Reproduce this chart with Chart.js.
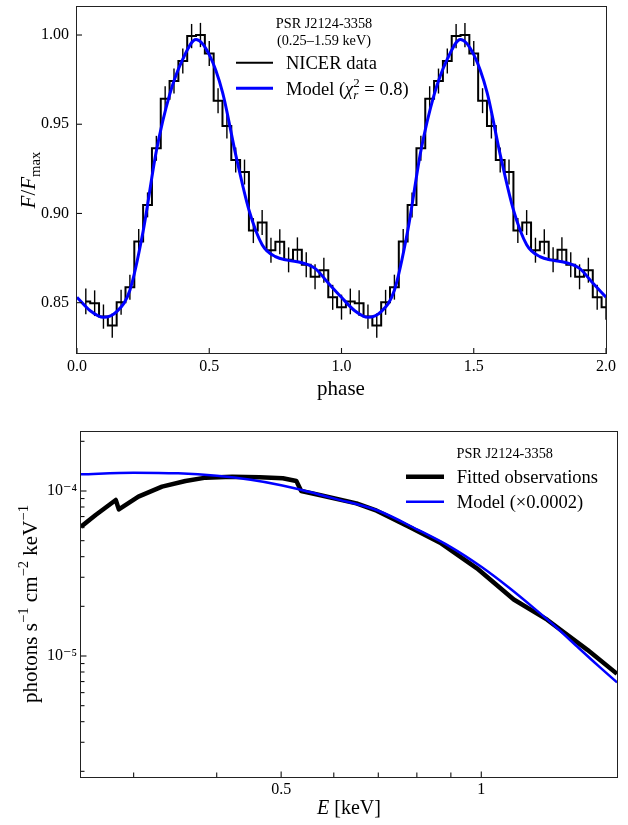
<!DOCTYPE html>
<html><head><meta charset="utf-8">
<script src="https://cdn.jsdelivr.net/npm/chart.js"></script>
<style>
html,body{margin:0;padding:0;background:#fff;}
#wrap{width:628px;height:825px;position:relative;overflow:hidden;}
canvas{display:block;}
</style></head><body>
<div id="wrap">
<div style="position:absolute;left:0;top:0;width:628px;height:410px"><canvas id="c1" width="628" height="410"></canvas></div>
<div style="position:absolute;left:0;top:410px;width:628px;height:415px"><canvas id="c2" width="628" height="415"></canvas></div>
</div>
<script>
const FONT = '"Liberation Serif", "DejaVu Serif", serif';

// ---------- Top panel data (pulse profile, two cycles) ----------
const phaseBins = [0.0333,0.0667,0.1,0.1333,0.1667,0.2,0.2333,0.2667,0.3,0.3333,0.3667,0.4,0.4333,0.4667,0.5,0.5333,0.5667,0.6,0.6333,0.6667,0.7,0.7333,0.7667,0.8,0.8333,0.8667,0.9,0.9333,0.9667,1.0,
  1.0333,1.0667,1.1,1.1333,1.1667,1.2,1.2333,1.2667,1.3,1.3333,1.3667,1.4,1.4333,1.4667,1.5,1.5333,1.5667,1.6,1.6333,1.6667,1.7,1.7333,1.7667,1.8,1.8333,1.8667,1.9,1.9333,1.9667,2.0];
const nicerFlux = [0.8507,0.8497,0.8422,0.8372,0.8502,0.8587,0.8843,0.9048,0.9365,0.9643,0.9742,0.9854,0.9994,1.0000,0.9897,0.9632,0.9490,0.9300,0.9232,0.8904,0.8949,0.8794,0.8842,0.8740,0.8796,0.8712,0.8645,0.8682,0.8530,0.8475,
  0.8507,0.8497,0.8422,0.8372,0.8502,0.8587,0.8843,0.9048,0.9365,0.9643,0.9742,0.9854,0.9994,1.0000,0.9897,0.9632,0.9490,0.9300,0.9232,0.8904,0.8949,0.8794,0.8842,0.8740,0.8796,0.8712,0.8645,0.8682,0.8530,0.8475];
const nicerErr = [0.0072,0.0072,0.0068,0.0068,0.0070,0.0070,0.0070,0.0070,0.0070,0.0070,0.0070,0.0070,0.0068,0.0068,0.0070,0.0070,0.0070,0.0070,0.0070,0.0070,0.0070,0.0070,0.0070,0.0070,0.0070,0.0070,0.0070,0.0070,0.0070,0.0070,
  0.0072,0.0072,0.0068,0.0068,0.0070,0.0070,0.0070,0.0070,0.0070,0.0070,0.0070,0.0070,0.0068,0.0068,0.0070,0.0070,0.0070,0.0070,0.0070,0.0070,0.0070,0.0070,0.0070,0.0070,0.0070,0.0070,0.0070,0.0070,0.0070,0.0070];
const modelPhase = [0,0.05,0.1,0.15,0.2,0.25,0.3,0.35,0.4,0.45,0.5,0.55,0.6,0.65,0.7,0.75,0.8,0.85,0.9,0.95,1.0,
  1.05,1.1,1.15,1.2,1.25,1.3,1.35,1.4,1.45,1.5,1.55,1.6,1.65,1.7,1.75,1.8,1.85,1.9,1.95,2.0];
const modelFlux = [0.8530,0.8455,0.8418,0.8450,0.8570,0.8900,0.9350,0.9665,0.9865,0.9975,0.9890,0.9680,0.9330,0.9020,0.8825,0.8758,0.8737,0.8724,0.8692,0.8610,0.8530,
  0.8455,0.8418,0.8450,0.8570,0.8900,0.9350,0.9665,0.9865,0.9975,0.9890,0.9680,0.9330,0.9020,0.8825,0.8758,0.8737,0.8724,0.8692,0.8610,0.8530];
const phaseTicks = [0, 0.5, 1.0, 1.5, 2.0];
const phaseTickLabels = ['0.0', '0.5', '1.0', '1.5', '2.0'];
const fluxTicks = [0.85, 0.90, 0.95, 1.00];
const fluxTickLabels = ['0.85', '0.90', '0.95', '1.00'];

// ---------- Bottom panel data (spectrum) ----------
const energyObs = [0.25,0.263,0.282,0.285,0.305,0.331,0.359,0.385,0.422,0.464,0.503,0.527,0.536,0.571,0.649,0.696,0.781,0.867,0.985,1.119,1.256,1.444,1.6];
const photonsObs = [6.08e-5,7.16e-5,8.82e-5,7.74e-5,9.24e-5,1.062e-4,1.150e-4,1.205e-4,1.221e-4,1.210e-4,1.194e-4,1.150e-4,1.000e-4,9.45e-5,8.42e-5,7.60e-5,6.03e-5,4.86e-5,3.40e-5,2.20e-5,1.66e-5,1.09e-5,7.8e-6];
const energyModel = [0.25,0.3,0.35,0.4,0.45,0.5,0.55,0.6,0.7,0.8,0.9,1.0,1.1,1.2,1.3,1.4,1.5,1.6];
const photonsModel = [1.262e-4,1.291e-4,1.279e-4,1.236e-4,1.169e-4,1.084e-4,9.89e-5,9.02e-5,7.59e-5,5.86e-5,4.57e-5,3.47e-5,2.60e-5,1.95e-5,1.479e-5,1.122e-5,8.71e-6,6.92e-6];
const energyTicks = [0.3,0.4,0.5,0.6,0.7,0.8,0.9,1.0];
const energyTickLabels = ['','','0.5','','','','','1'];
const photonTicks = [2e-6,3e-6,4e-6,5e-6,6e-6,7e-6,8e-6,9e-6,1e-5,2e-5,3e-5,4e-5,5e-5,6e-5,7e-5,8e-5,9e-5,1e-4,2e-4];
const photonTickLabels = ['','','','','','','','','10⁻⁵','','','','','','','','','10⁻⁴',''];

// ---------- helpers ----------
function richText(ctx, segs, x, y, size, opts) {
  opts = opts || {};
  ctx.save();
  ctx.translate(x, y);
  if (opts.rotate) ctx.rotate(-Math.PI / 2);
  ctx.fillStyle = '#000';
  ctx.textBaseline = 'alphabetic';
  ctx.textAlign = 'left';
  const items = [];
  let total = 0, prevW = 0;
  segs.forEach(s => {
    const sz = size * (s.sc || 1);
    const font = (s.it ? 'italic ' : '') + sz.toFixed(2) + 'px ' + FONT;
    ctx.font = font;
    const w = ctx.measureText(s.t).width;
    let x0, adv;
    if (s.overlay) { x0 = total - prevW; adv = Math.max(0, w - prevW); prevW = Math.max(w, prevW); }
    else { x0 = total; adv = w; prevW = w; }
    items.push({s, font, x0});
    total += adv;
  });
  const start = opts.align === 'left' ? 0 : -total / 2;
  const base = size * 0.34;
  items.forEach(it => { ctx.font = it.font; ctx.fillText(it.s.t, start + it.x0, base + (it.s.dy || 0) * size); });
  ctx.restore();
}
function hline(ctx, x1, x2, y, color, w) {
  ctx.save(); ctx.strokeStyle = color; ctx.lineWidth = w; ctx.lineCap = 'butt';
  ctx.beginPath(); ctx.moveTo(x1, y); ctx.lineTo(x2, y); ctx.stroke(); ctx.restore();
}
function decoPlugin(cfg) {
  return {
    id: 'deco',
    afterDraw(chart) {
      const ctx = chart.ctx, a = chart.chartArea;
      const xs = chart.scales.x, ys = chart.scales.y;
      ctx.save();
      ctx.strokeStyle = '#111';
      ctx.lineWidth = 1.1;
      xs.ticks.forEach(t => {
        if (t.value < xs.min || t.value > xs.max) return;
        const p = xs.getPixelForValue(t.value);
        const len = t.major ? cfg.xMajor : cfg.xMinor;
        ctx.beginPath(); ctx.moveTo(p, a.bottom); ctx.lineTo(p, a.bottom - len); ctx.stroke();
      });
      ys.ticks.forEach(t => {
        if (t.value < ys.min || t.value > ys.max) return;
        const p = ys.getPixelForValue(t.value);
        const len = t.major ? cfg.yMajor : cfg.yMinor;
        ctx.beginPath(); ctx.moveTo(a.left, p); ctx.lineTo(a.left + len, p); ctx.stroke();
      });
      ctx.lineWidth = 1;
      ctx.strokeStyle = '#222';
      ctx.strokeRect(a.left - 0.5, a.top - 0.5, a.right - a.left + 1, a.bottom - a.top + 1);
      ctx.restore();
      cfg.draw(ctx, chart);
    }
  };
}
function noPad(s) { s.paddingLeft = 0; s.paddingRight = 0; s.paddingTop = 0; s.paddingBottom = 0; }
const tickFont = {family: FONT, size: 16};

// ---------- Top chart ----------
new Chart(document.getElementById('c1'), {
  type: 'line',
  data: {
    datasets: [
      { type: 'line', label: 'Model (χ²ᵣ = 0.8)', data: modelPhase.map((p, i) => ({x: p, y: modelFlux[i]})),
        borderColor: '#0000ff', borderWidth: 3, pointRadius: 0, cubicInterpolationMode: 'monotone', fill: false, order: 0, clip: 0 },
      { type: 'line', label: 'NICER data', data: phaseBins.map((p, i) => ({x: p, y: nicerFlux[i]})),
        borderColor: '#000', borderWidth: 2, pointRadius: 0, stepped: 'middle', fill: false, order: 1, clip: 0 },
      { type: 'bar', label: 'NICER errors', data: phaseBins.map((p, i) => ({x: p, y: [nicerFlux[i] - nicerErr[i], nicerFlux[i] + nicerErr[i]]})),
        backgroundColor: '#000', borderWidth: 0, barThickness: 1.4, inflateAmount: 0, order: 2, clip: 0 }
    ]
  },
  options: {
    responsive: false, animation: false, devicePixelRatio: 1, events: [],
    layout: {padding: {left: 0, top: 7, right: 22, bottom: 0}},
    plugins: {legend: {display: false}, tooltip: {enabled: false}},
    scales: {
      x: { type: 'linear', min: 0, max: 2, offset: false,
        grid: {display: false, drawTicks: false}, border: {display: false},
        afterBuildTicks: s => { s.ticks = phaseTicks.map(v => ({value: v, major: true})); },
        afterFit: s => { s.height = 57; noPad(s); },
        ticks: { callback: (v, i) => phaseTickLabels[i], font: tickFont, color: '#000', padding: 4, maxRotation: 0, autoSkip: false } },
      y: { type: 'linear', min: 0.8218, max: 1.0157,
        grid: {display: false, drawTicks: false}, border: {display: false},
        afterBuildTicks: s => { s.ticks = fluxTicks.map(v => ({value: v, major: true})); },
        afterFit: s => { s.width = 77; noPad(s); },
        ticks: { callback: (v, i) => fluxTickLabels[i], font: tickFont, color: '#000', padding: 8, autoSkip: false } }
    }
  },
  plugins: [decoPlugin({
    xMajor: 5, xMinor: 3, yMajor: 5, yMinor: 3,
    draw(ctx) {
      richText(ctx, [{t: 'phase'}], 341, 388, 21);
      richText(ctx, [{t: 'F', it: true}, {t: '/'}, {t: 'F', it: true}, {t: 'max', sc: 0.7, dy: 0.22}], 28, 180, 21, {rotate: true});
      richText(ctx, [{t: 'PSR J2124-3358'}], 324, 23.3, 14.3);
      richText(ctx, [{t: '(0.25–1.59 keV)'}], 324, 40, 14.3);
      hline(ctx, 236, 273, 62.7, '#000', 2);
      richText(ctx, [{t: 'NICER data'}], 286, 62.7, 18.5, {align: 'left'});
      hline(ctx, 236, 273, 88.3, '#0000ff', 3);
      richText(ctx, [{t: 'Model ('}, {t: 'χ', it: true}, {t: '2', sc: 0.7, dy: -0.42}, {t: 'r', it: true, sc: 0.7, dy: 0.22, overlay: true}, {t: ' = 0.8)'}], 286, 88.3, 18.5, {align: 'left'});
    }
  })]
});

// ---------- Bottom chart ----------
new Chart(document.getElementById('c2'), {
  type: 'line',
  data: {
    datasets: [
      { label: 'Model (×0.0002)', data: energyModel.map((e, i) => ({x: e, y: photonsModel[i]})),
        borderColor: '#0000ff', borderWidth: 2.5, pointRadius: 0, cubicInterpolationMode: 'monotone', fill: false, order: 0, clip: 0 },
      { label: 'Fitted observations', data: energyObs.map((e, i) => ({x: e, y: photonsObs[i]})),
        borderColor: '#000', borderWidth: 4.5, pointRadius: 0, tension: 0, borderJoinStyle: 'round', fill: false, order: 1, clip: 0 }
    ]
  },
  options: {
    responsive: false, animation: false, devicePixelRatio: 1, events: [],
    layout: {padding: {left: 0, top: 22, right: 11, bottom: 0}},
    plugins: {legend: {display: false}, tooltip: {enabled: false}},
    scales: {
      x: { type: 'logarithmic', min: 0.25, max: 1.6, offset: false,
        grid: {display: false, drawTicks: false}, border: {display: false},
        afterBuildTicks: s => { s.ticks = energyTicks.map((v, i) => ({value: v, major: energyTickLabels[i] !== ''})); },
        afterFit: s => { s.height = 48; noPad(s); },
        ticks: { callback: (v, i) => energyTickLabels[i], font: tickFont, color: '#000', padding: 3, maxRotation: 0, autoSkip: false } },
      y: { type: 'logarithmic', min: 1.848e-6, max: 2.278e-4,
        grid: {display: false, drawTicks: false}, border: {display: false},
        afterBuildTicks: s => { s.ticks = photonTicks.map((v, i) => ({value: v, major: photonTickLabels[i] !== ''})); },
        afterFit: s => { s.width = 81; noPad(s); },
        ticks: { callback: (v, i) => photonTickLabels[i], font: tickFont, color: '#000', padding: 4, autoSkip: false } }
    }
  },
  plugins: [decoPlugin({
    xMajor: 5.5, xMinor: 4.5, yMajor: 5.5, yMinor: 3.5,
    draw(ctx) {
      richText(ctx, [{t: 'E', it: true}, {t: ' [keV]'}], 349, 396.7, 20);
      richText(ctx, [{t: 'photons s'}, {t: '−1', sc: 0.7, dy: -0.42}, {t: ' cm'}, {t: '−2', sc: 0.7, dy: -0.42}, {t: ' keV'}, {t: '−1', sc: 0.7, dy: -0.42}], 29.5, 194, 21, {rotate: true});
      richText(ctx, [{t: 'PSR J2124-3358'}], 504.7, 43, 14.3);
      hline(ctx, 406, 444, 66.7, '#000', 4.5);
      richText(ctx, [{t: 'Fitted observations'}], 456.7, 66.7, 18.5, {align: 'left'});
      hline(ctx, 406, 444, 91.7, '#0000ff', 2.5);
      richText(ctx, [{t: 'Model ('}, {t: '×'}, {t: '0.0002)'}], 456.7, 91.7, 18.5, {align: 'left'});
    }
  })]
});
</script>
</body></html>
